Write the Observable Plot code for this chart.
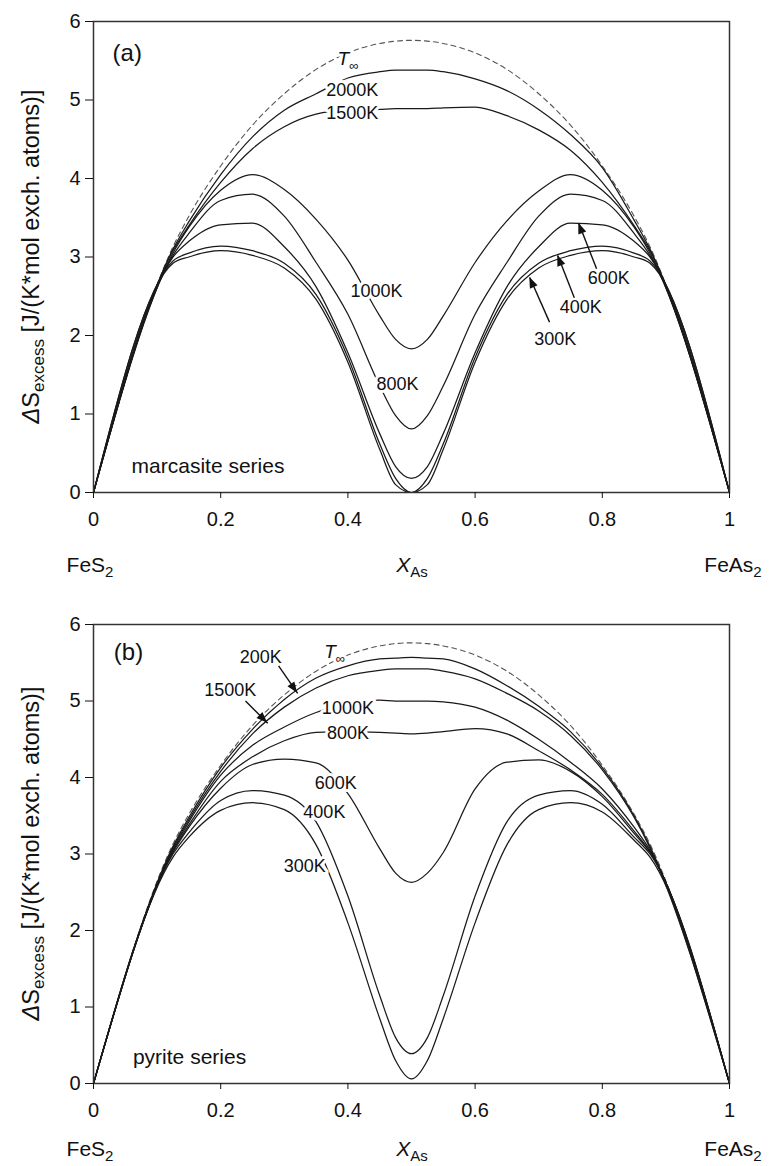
<!DOCTYPE html>
<html><head><meta charset="utf-8">
<script src="https://cdn.jsdelivr.net/npm/d3@7"></script>
<script src="https://cdn.jsdelivr.net/npm/@observablehq/plot@0.6"></script>
<style>
body{margin:0;background:#fff;}
#chart{width:769px;}
#chart svg{display:block;}
</style></head><body><div id="chart"></div>
<script>
// composition grid (X_As)
const xs = [0, 0.125, 0.15, 0.2, 0.25, 0.3, 0.35, 0.4, 0.45, 0.475, 0.5, 0.525, 0.55, 0.6, 0.65, 0.7, 0.75, 0.8, 0.85, 0.875, 1];
// T-infinity (dashed), both panels
const tInf = [0,3.13,3.52,4.16,4.68,5.08,5.39,5.60,5.72,5.75,5.76,5.75,5.72,5.60,5.39,5.08,4.68,4.16,3.52,3.13,0];
// (a) marcasite series
const marc2000 = [0,3.10,3.45,4.05,4.53,4.87,5.08,5.28,5.36,5.38,5.38,5.38,5.36,5.27,5.12,4.88,4.56,4.14,3.47,3.10,0];
const marc1500 = [0,3.08,3.40,3.95,4.38,4.66,4.82,4.87,4.88,4.89,4.89,4.89,4.90,4.91,4.80,4.62,4.36,3.95,3.40,3.08,0];
const marc1000 = [0,3.05,3.38,3.85,4.05,3.86,3.48,2.96,2.25,1.95,1.83,1.95,2.25,2.93,3.46,3.84,4.05,3.85,3.38,3.05,0];
const marc800  = [0,3.02,3.30,3.72,3.80,3.52,2.93,2.27,1.36,0.98,0.81,0.98,1.36,2.27,2.93,3.52,3.80,3.72,3.30,3.02,0];
const marc600  = [0,3.00,3.20,3.41,3.43,3.13,2.62,1.78,0.75,0.33,0.18,0.33,0.75,1.78,2.62,3.13,3.43,3.41,3.20,3.00,0];
const marc400  = [0,2.95,3.05,3.14,3.08,2.92,2.52,1.72,0.62,0.18,0.00,0.18,0.62,1.72,2.52,2.92,3.08,3.14,3.05,2.95,0];
const marc300  = [0,2.92,3.00,3.08,3.02,2.86,2.46,1.66,0.55,0.10,0.00,0.10,0.55,1.66,2.46,2.86,3.02,3.08,3.00,2.92,0];
// (b) pyrite series
const pyr2000 = [0,3.10,3.48,4.13,4.63,5.02,5.30,5.46,5.55,5.56,5.57,5.56,5.55,5.42,5.20,4.93,4.60,4.13,3.50,3.10,0];
const pyr1500 = [0,3.08,3.45,4.08,4.57,4.92,5.17,5.33,5.40,5.42,5.42,5.42,5.39,5.29,5.10,4.87,4.55,4.10,3.48,3.08,0];
const pyr1000 = [0,3.06,3.42,4.03,4.42,4.66,4.85,4.96,5.01,5.00,5.00,5.00,4.99,4.92,4.75,4.50,4.20,3.85,3.35,3.05,0];
const pyr800  = [0,3.04,3.38,3.95,4.27,4.48,4.59,4.60,4.59,4.58,4.57,4.58,4.60,4.64,4.57,4.35,4.10,3.78,3.30,3.03,0];
const pyr600  = [0,3.02,3.35,3.86,4.17,4.24,4.19,3.79,3.07,2.75,2.63,2.75,3.02,3.85,4.20,4.23,4.08,3.75,3.27,3.02,0];
const pyr400  = [0,3.00,3.28,3.70,3.83,3.77,3.42,2.45,1.15,0.60,0.39,0.60,1.15,2.45,3.42,3.77,3.83,3.65,3.22,3.00,0];
const pyr300  = [0,2.96,3.22,3.57,3.67,3.58,3.12,2.10,0.85,0.30,0.06,0.30,0.85,2.10,3.12,3.58,3.67,3.55,3.18,2.96,0];

const xTicks = [0, 0.2, 0.4, 0.6, 0.8, 1];
const yTicks = [0, 1, 2, 3, 4, 5, 6];

// annotations (data units)
const marcLabels = [
  {x:0.407, y:5.12, text:"2000K"},
  {x:0.407, y:4.83, text:"1500K"},
  {x:0.445, y:2.57, text:"1000K"},
  {x:0.478, y:1.38, text:"800K"},
  {x:0.810, y:2.73, text:"600K"},
  {x:0.766, y:2.36, text:"400K"},
  {x:0.726, y:1.95, text:"300K"}
];
const marcArrows = [
  {x1:0.791, y1:2.85, x2:0.763, y2:3.43},
  {x1:0.756, y1:2.48, x2:0.730, y2:3.02},
  {x1:0.717, y1:2.17, x2:0.686, y2:2.74}
];
const pyrLabels = [
  {x:0.263, y:5.57, text:"200K"},
  {x:0.215, y:5.14, text:"1500K"},
  {x:0.400, y:4.90, text:"1000K"},
  {x:0.400, y:4.58, text:"800K"},
  {x:0.381, y:3.93, text:"600K"},
  {x:0.363, y:3.54, text:"400K"},
  {x:0.332, y:2.84, text:"300K"}
];
const pyrArrows = [
  {x1:0.291, y1:5.46, x2:0.321, y2:5.10},
  {x1:0.239, y1:5.00, x2:0.274, y2:4.71}
];

const FONT = "'Liberation Sans', Arial, Helvetica, sans-serif";

function toRows(series) {
  return series.flatMap(([key, vals]) => xs.map((x, i) => ({x, y: vals[i], key})));
}

function panel(cfg) {
  const solid = toRows(cfg.curves);
  const dashed = toRows([["Tinf", tInf]]);
  const plot = Plot.plot({
    width: 769, height: cfg.height,
    marginTop: cfg.marginTop, marginBottom: cfg.marginBottom,
    marginLeft: 93, marginRight: 40,
    x: {domain: [0, 1]},
    y: {domain: [0, 6]},
    style: {fontFamily: FONT, fontSize: "20px", color: "#111", background: "#fff"},
    marks: [
      Plot.line(dashed, {x: "x", y: "y", stroke: "#555", strokeWidth: 1.1, strokeDasharray: "5,4", curve: "monotone-x"}),
      Plot.line(solid, {x: "x", y: "y", z: "key", stroke: "#1a1a1a", strokeWidth: 1.25, curve: "monotone-x", clip: true}),
      Plot.text(cfg.labels, {x: "x", y: "y", text: "text", fontSize: 18, fill: "#111", stroke: "white", strokeWidth: 6, paintOrder: "stroke"}),
      Plot.link(cfg.arrows, {x1: "x1", y1: "y1", x2: "x2", y2: "y2", stroke: "#111", strokeWidth: 1.4}),
      Plot.text([cfg.letter], {x: "x", y: "y", text: "text", fontSize: 24, fill: "#111"}),
      Plot.text([cfg.series], {x: "x", y: "y", text: "text", fontSize: 21, fill: "#111"}),
      Plot.frame({stroke: "#333", strokeWidth: 1.5}),
      Plot.axisX({ticks: xTicks, tickFormat: d => String(d), tickSize: 6, tickPadding: 13, label: null}),
      Plot.axisY({ticks: yTicks, tickFormat: d => String(d), tickSize: 8, tickPadding: 5, label: null})
    ]
  });
  const sx = plot.scale("x"), sy = plot.scale("y");
  const svg = d3.select(plot);
  const g = svg.append("g").attr("font-family", FONT).attr("fill", "#111");

  // filled arrowheads at the arrow tips (positions through the plot's scales)
  for (const a of cfg.arrows) {
    const px1 = sx.apply(a.x1), py1 = sy.apply(a.y1), px2 = sx.apply(a.x2), py2 = sy.apply(a.y2);
    const ang = Math.atan2(py2 - py1, px2 - px1) * 180 / Math.PI;
    g.append("path").attr("d", "M0,0L-11,-4.2L-11,4.2Z").attr("fill", "#111")
      .attr("transform", `translate(${px2},${py2}) rotate(${ang})`);
  }

  // T-infinity label
  const t = g.append("text")
    .attr("x", sx.apply(cfg.tinf.x)).attr("y", sy.apply(cfg.tinf.y))
    .attr("font-size", 19).attr("stroke", "white").attr("stroke-width", 6)
    .attr("paint-order", "stroke");
  t.append("tspan").attr("font-style", "italic").text("T");
  t.append("tspan").attr("font-size", 13).attr("dy", 5).text("∞");

  // y-axis label
  const cy = (sy.apply(0) + sy.apply(6)) / 2;
  const yl = g.append("text").attr("transform", `translate(39,${cy}) rotate(-90)`)
    .attr("text-anchor", "middle").attr("font-size", 23.5);
  yl.append("tspan").attr("font-style", "italic").text("Δ");
  yl.append("tspan").text("S");
  yl.append("tspan").attr("font-size", 17).attr("dy", 5).text("excess");
  yl.append("tspan").attr("dy", -5).text(" [J/(K*mol exch. atoms)]");

  // composition labels
  const by = sy.apply(0) + cfg.compOffset;
  const l1 = g.append("text").attr("x", sx.apply(0) - 3).attr("y", by).attr("text-anchor", "middle").attr("font-size", 21);
  l1.append("tspan").text("FeS");
  l1.append("tspan").attr("font-size", 15).attr("dy", 5).text("2");
  const l2 = g.append("text").attr("x", sx.apply(0.5) + 1).attr("y", by).attr("text-anchor", "middle").attr("font-size", 21);
  l2.append("tspan").attr("font-style", "italic").text("X");
  l2.append("tspan").attr("font-size", 15).attr("dy", 5).text("As");
  const l3 = g.append("text").attr("x", sx.apply(1) + 4).attr("y", by).attr("text-anchor", "middle").attr("font-size", 21);
  l3.append("tspan").text("FeAs");
  l3.append("tspan").attr("font-size", 15).attr("dy", 5).text("2");
  return plot;
}

const panelA = panel({
  height: 580, marginTop: 21, marginBottom: 88, compOffset: 80,
  curves: [["2000K", marc2000], ["1500K", marc1500], ["1000K", marc1000], ["800K", marc800], ["600K", marc600], ["400K", marc400], ["300K", marc300]],
  labels: marcLabels, arrows: marcArrows,
  letter: {x: 0.053, y: 5.59, text: "(a)"},
  series: {x: 0.18, y: 0.33, text: "marcasite series"},
  tinf: {x: 0.401, y: 5.44}
});
const panelB = panel({
  height: 586, marginTop: 44, marginBottom: 83, compOffset: 73,
  curves: [["2000K", pyr2000], ["1500K", pyr1500], ["1000K", pyr1000], ["800K", pyr800], ["600K", pyr600], ["400K", pyr400], ["300K", pyr300]],
  labels: pyrLabels, arrows: pyrArrows,
  letter: {x: 0.055, y: 5.63, text: "(b)"},
  series: {x: 0.151, y: 0.34, text: "pyrite series"},
  tinf: {x: 0.38, y: 5.56}
});
document.getElementById("chart").append(panelA, panelB);
</script>
</body></html>
